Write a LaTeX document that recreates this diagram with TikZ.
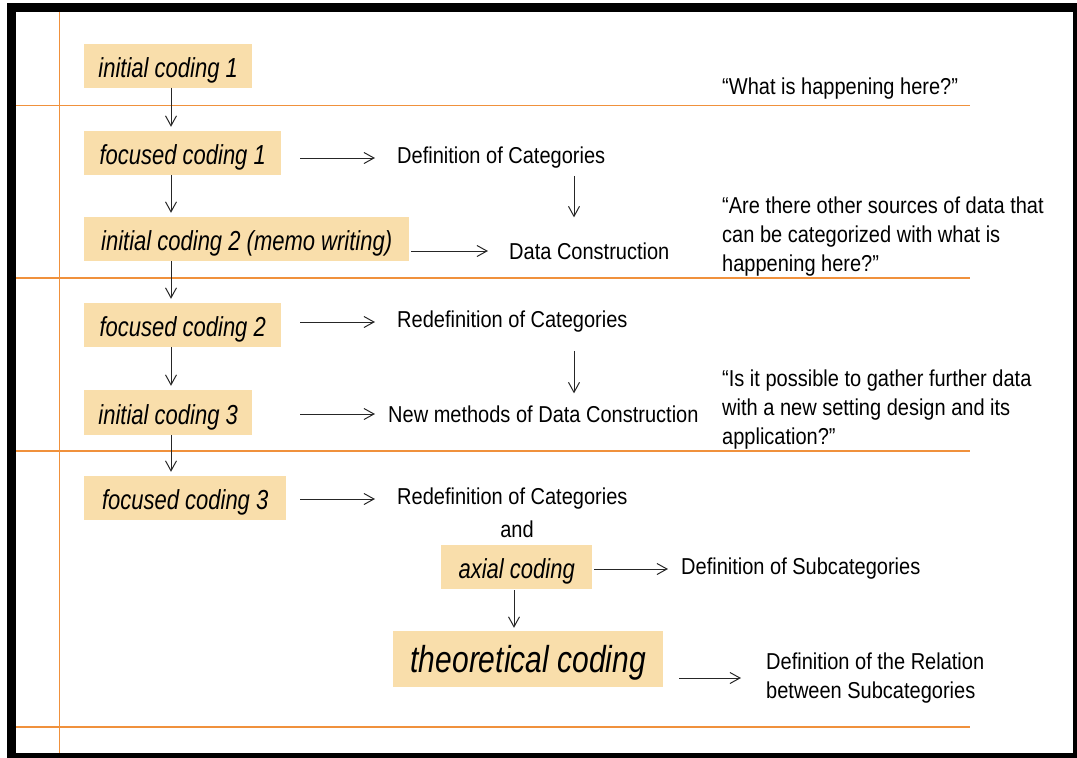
\documentclass[tikz,border=0pt]{standalone}
\usepackage{fontspec}
\setmainfont{Liberation Sans}[FakeStretch=0.87]
\newfontfamily\stagefont{Liberation Sans}[FakeStretch=0.8]
\usepackage{xcolor}
\usetikzlibrary{arrows.meta,positioning}
\definecolor{boxfill}{RGB}{249,222,171}
\definecolor{rulecol}{RGB}{240,145,60}

\begin{document}
\begin{tikzpicture}[
    x=1pt, y=-1pt,
    stage/.style={rectangle, fill=boxfill, anchor=west, inner xsep=12pt, inner ysep=0pt, text height=29pt, text depth=6pt, minimum height=44pt, minimum width=#1pt, font=\stagefont\fontsize{27.5}{32}\selectfont\itshape},
    lbl/.style={anchor=west, inner sep=0pt, font=\fontsize{23}{29}\selectfont, align=left},
    arrow/.style={-{Straight Barb[length=10pt,width=11pt]}, line width=1pt, black!85}
]
    \useasboundingbox (0,0) rectangle (1077,758);
    \clip (0,0) rectangle (1077,758);

    % frame and rules
    \draw[rulecol, line width=1pt] (59,12) -- (59,753);
    \foreach \y/\w in {105/0.9, 278/1.2, 451/1.6, 727/2} {
        \draw[rulecol, line width=\w pt] (16,\y) -- (970,\y);
    }
    \draw[line width=9pt] (11.5,7.5) rectangle (1077.5,757.5);

    % coding stages
    \node[stage=168] (ic1) at (84,65.5) {initial coding 1};
    \node[stage=197] (fc1) at (84,153) {focused coding 1};
    \node[stage=325] (ic2) at (84,239) {initial coding 2 (memo writing)};
    \node[stage=197] (fc2) at (84,325) {focused coding 2};
    \node[stage=168, minimum height=45pt] (ic3) at (84,412.5) {initial coding 3};
    \node[stage=202] (fc3) at (84,498) {focused coding 3};
    \node[stage=151] (axial) at (441,567) {axial coding};
    \node[stage=270, minimum height=56pt, text height=34pt, text depth=8pt, font=\stagefont\fontsize{37.5}{42}\selectfont\itshape] (theo) at (393,659) {theoretical coding};

    % results
    \node[lbl] (def1) at (397,158) {Definition of Categories};
    \node[lbl] (dc1) at (509,251) {Data Construction};
    \node[lbl] (redef1) at (397,322) {Redefinition of Categories};
    \node[lbl] (newm) at (388,414) {New methods of Data Construction};
    \node[lbl] (redef2) at (397,499) {Redefinition of Categories};
    \node[lbl, anchor=center] (and1) at (517,529) {and};
    \node[lbl] (defsub) at (681,569) {Definition of Subcategories};
    \node[lbl] (defrel) at (766,678) {Definition of the Relation\\between Subcategories};

    % questions
    \node[lbl] (q1) at (722,89) {“What is happening here?”};
    \node[lbl] (q2) at (722,237) {“Are there other sources of data that\\can be categorized with what is\\happening here?”};
    \node[lbl] (q3) at (722,409.5) {“Is it possible to gather further data\\with a new setting design and its\\application?”};

    % arrows
    \coordinate (col) at (171,0);
    \coordinate (rcol) at (574,0);
    \coordinate (acol) at (514,0);
    \foreach \a/\b in {ic1/fc1, fc1/ic2, ic2/fc2, fc2/ic3, ic3/fc3} {
        \draw[arrow, shorten >=4pt] (\a.south -| col) -- (\b.north -| col);
    }
    \draw[arrow, shorten <=7pt, shorten >=25pt] (def1.south -| rcol) -- (dc1.north -| rcol);
    \draw[arrow, shorten <=18pt, shorten >=12pt] (redef1.south -| rcol) -- (newm.north -| rcol);
    \draw[arrow, shorten <=1pt, shorten >=3pt] (axial.south -| acol) -- (theo.north -| acol);

    \draw[arrow, shorten <=19pt, shorten >=22pt] (def1.west -| fc1.east) -- (def1.west);
    \draw[arrow, shorten <=2pt, shorten >=21pt] (dc1.west -| ic2.east) -- (dc1.west);
    \draw[arrow, shorten <=19pt, shorten >=22pt] (redef1.west -| fc2.east) -- (redef1.west);
    \draw[arrow, shorten <=48pt, shorten >=13pt] (newm.west -| ic3.east) -- (newm.west);
    \draw[arrow, shorten <=14pt, shorten >=22pt] (redef2.west -| fc3.east) -- (redef2.west);
    \draw[arrow, shorten <=2pt, shorten >=13pt] (defsub.west -| axial.east) -- (defsub.west);
    \draw[arrow, shorten <=16pt, shorten >=25pt] (defrel.west -| theo.east) -- (defrel.west);
\end{tikzpicture}
\end{document}
